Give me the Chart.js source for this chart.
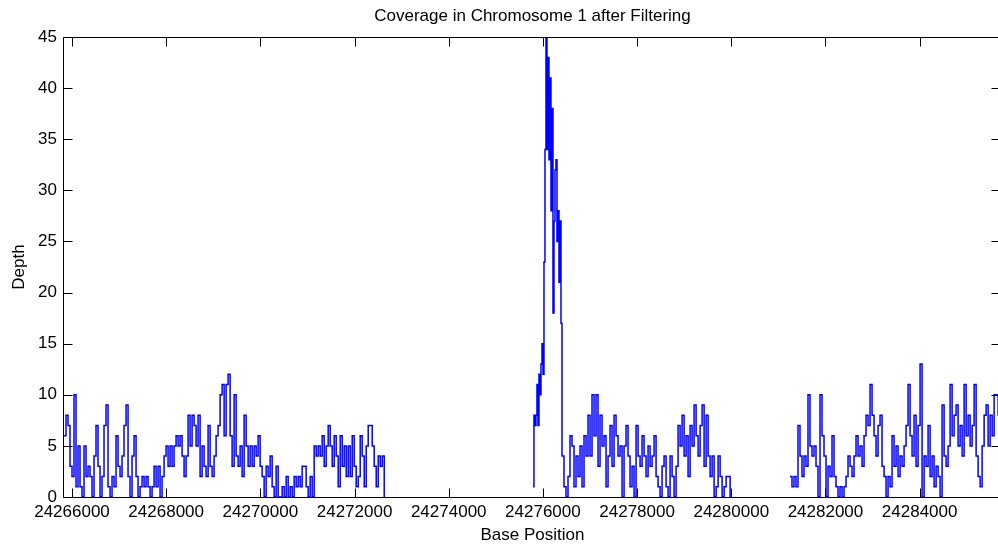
<!DOCTYPE html>
<html>
<head>
<meta charset="utf-8">
<title>Coverage in Chromosome 1 after Filtering</title>
<script src="https://cdn.jsdelivr.net/npm/chart.js@4.4.0/dist/chart.umd.min.js"></script>
<style>
  html, body { margin: 0; padding: 0; background: #fff; overflow: hidden; }
  #wrap { width: 1003px; height: 546px; }
</style>
</head>
<body>
<div id="wrap"><canvas id="coverage" width="1003" height="546"></canvas></div>
<script>
// depth, one value per bin (bp positions of first bin given)
const binBp = 42.5;
const peakBinBp = 21.25;

const leftStart = 24265830;
const leftDepth = [
    6, 8, 7, 3, 2, 10, 1, 5, 1, 0,
    5, 2, 3, 2, 0, 4, 7, 3, 0, 2,
    7, 9, 1, 0, 2, 1, 6, 3, 2, 4,
    7, 9, 2, 0, 4, 6, 2, 0, 1, 2,
    1, 2, 1, 0, 1, 3, 1, 3, 0, 2,
    4, 5, 3, 5, 3, 5, 6, 5, 6, 4,
    2, 4, 8, 5, 8, 7, 5, 8, 2, 5,
    3, 2, 7, 3, 2, 4, 6, 7, 10, 11,
    6, 11, 12, 6, 3, 10, 4, 3, 5, 2,
    8, 5, 3, 5, 3, 5, 4, 6, 3, 2,
    0, 3, 2, 4, 1, 0, 3, 0, 0, 1,
    0, 2, 0, 1, 0, 2, 1, 2, 1, 3,
    3, 1, 0, 2, 0, 5, 4, 5, 4, 6,
    3, 5, 7, 5, 3, 6, 4, 1, 6, 3,
    5, 2, 5, 2, 6, 3, 1, 2, 6, 4,
    1, 5, 7, 7, 5, 3, 1, 4, 3, 4,
    0
];

const peakStart = 24275789;
const peakDepth = [
    1, 8, 7, 8, 11, 7, 12, 10, 13, 15,
    12, 23, 34, 45, 34, 43, 33, 41, 28, 38,
    18, 27, 32, 33, 25, 28, 21, 27, 17, 4
];

const midStart = 24276448;
const midDepth = [
    1, 0, 2, 6, 5, 1, 4, 2, 5, 1,
    6, 4, 8, 4, 10, 6, 10, 3, 8, 5,
    6, 1, 4, 7, 3, 8, 6, 4, 5, 0,
    5, 7, 4, 1, 3, 0, 7, 4, 3, 6,
    4, 2, 5, 3, 4, 6, 2, 1, 0, 3,
    4, 1, 0, 4, 2, 0, 3, 7, 5, 8,
    4, 6, 2, 7, 5, 9, 6, 4, 7, 9,
    3, 8, 4, 2, 4, 0, 1, 4, 2, 0,
    1, 2, 2, 0
];

const rightStart = 24281247;
const rightDepth = [
    2, 1, 2, 1, 7, 4, 2, 4, 3, 10,
    5, 4, 5, 3, 0, 10, 6, 4, 0, 3,
    2, 6, 2, 1, 0, 1, 0, 1, 2, 4,
    3, 2, 4, 6, 4, 5, 3, 6, 8, 7,
    11, 8, 6, 4, 7, 8, 3, 2, 0, 2,
    1, 6, 3, 5, 2, 4, 3, 5, 7, 11,
    6, 4, 8, 3, 7, 13, 0, 4, 3, 7,
    2, 4, 1, 3, 2, 0, 9, 4, 3, 5,
    11, 6, 8, 9, 5, 7, 4, 11, 6, 8,
    5, 7, 11, 4, 2, 1, 5, 8, 9, 5,
    8, 6, 10, 10, 8, 6
];

const xMin = 24265830;
const xMax = 24285728;
const xTicks = [24266000, 24268000, 24270000, 24272000, 24274000,
                24276000, 24278000, 24280000, 24282000, 24284000];
const yTicks = [0, 5, 10, 15, 20, 25, 30, 35, 40, 45];

function blockPoints(start, bin, depths) {
    return depths.map((d, i) => ({ x: start + i * bin, y: d }));
}

// null points break the line where there is no coverage data
const points = [].concat(
    blockPoints(leftStart, binBp, leftDepth),
    [{ x: leftStart + leftDepth.length * binBp, y: null }],
    blockPoints(peakStart, peakBinBp, peakDepth),
    blockPoints(midStart, binBp, midDepth),
    [{ x: midStart + midDepth.length * binBp, y: null }],
    blockPoints(rightStart, binBp, rightDepth)
);

// matlab style box with ticks pointing inwards
const boxTicks = {
    id: 'boxTicks',
    afterDraw(chart) {
        const { ctx, chartArea: a, scales: { x, y } } = chart;
        const len = 9;
        const l = a.left - 0.5, r = a.right - 0.5, t = a.top + 0.5, b = a.bottom + 0.5;
        ctx.save();
        ctx.strokeStyle = '#000';
        ctx.lineWidth = 1;
        ctx.beginPath();
        ctx.moveTo(l, t); ctx.lineTo(r, t); ctx.lineTo(r, b); ctx.lineTo(l, b); ctx.closePath();
        x.ticks.forEach(tk => {
            const px = Math.round(x.getPixelForValue(tk.value)) + 0.5;
            ctx.moveTo(px, b); ctx.lineTo(px, b - len);
            ctx.moveTo(px, t); ctx.lineTo(px, t + len);
        });
        y.ticks.forEach(tk => {
            const py = Math.round(y.getPixelForValue(tk.value)) + 0.5;
            ctx.moveTo(l, py); ctx.lineTo(l + len, py);
            ctx.moveTo(r, py); ctx.lineTo(r - len, py);
        });
        ctx.stroke();
        ctx.restore();
    }
};

Chart.defaults.font.family = "'Liberation Sans', Arial, sans-serif";
Chart.defaults.font.size = 17;
Chart.defaults.color = '#000';

const ctx = document.getElementById('coverage').getContext('2d');
new Chart(ctx, {
    type: 'line',
    data: {
        datasets: [{
            label: 'Depth',
            data: points,
            stepped: true,
            borderColor: '#0000ff',
            borderWidth: 1.5,
            pointRadius: 0,
            fill: false,
            spanGaps: false
        }]
    },
    options: {
        responsive: false,
        devicePixelRatio: 1,
        animation: false,
        layout: { padding: { left: 0, right: 2, top: 0, bottom: 0 } },
        scales: {
            x: {
                type: 'linear',
                min: xMin,
                max: xMax,
                grid: { display: false, drawTicks: false },
                border: { display: false },
                afterBuildTicks: s => { s.ticks = xTicks.map(v => ({ value: v })); },
                ticks: {
                    maxRotation: 0,
                    autoSkip: false,
                    padding: 5,
                    callback: v => String(v)
                },
                title: { display: true, text: 'Base Position', padding: { top: 0, bottom: 0 } },
                afterFit: s => { s.height = 49; }
            },
            y: {
                min: 0,
                max: 45,
                grid: { display: false, drawTicks: false },
                border: { display: false },
                afterBuildTicks: s => { s.ticks = yTicks.map(v => ({ value: v })); },
                ticks: { padding: 7 },
                title: { display: true, text: 'Depth', padding: { top: 9, bottom: 0 } },
                afterFit: s => { s.width = 64; }
            }
        },
        plugins: {
            legend: { display: false },
            tooltip: { enabled: false },
            title: {
                display: true,
                fullSize: false,
                text: 'Coverage in Chromosome 1 after Filtering',
                font: { size: 17, weight: 'normal' },
                padding: { top: 6, bottom: 10.6 }
            }
        }
    },
    plugins: [boxTicks]
});
</script>
</body>
</html>
